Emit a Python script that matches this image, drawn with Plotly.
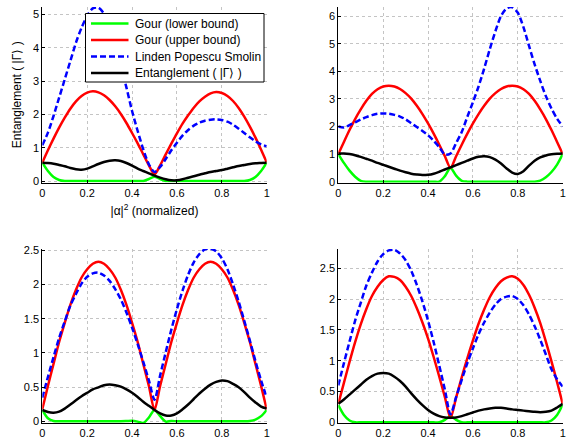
import plotly.graph_objects as go

x = [0, 0.025, 0.05, 0.075, 0.1, 0.125, 0.15, 0.175, 0.2, 0.225, 0.25, 0.275, 0.3, 0.325, 0.35, 0.375, 0.4,
     0.425, 0.45, 0.475, 0.5, 0.525, 0.55, 0.575, 0.6, 0.625, 0.65, 0.675, 0.7, 0.725, 0.75, 0.775, 0.8,
     0.825, 0.85, 0.875, 0.9, 0.925, 0.95, 0.975, 1]

series_names = ["Gour (lower bound)", "Gour (upper bound)", "Linden Popescu Smolin", "Entanglement ( |Γ⟩ )"]

# Panel 1 (top left)
p1_lower = [0.55, 0.30, 0.12, 0.03, 0.0, 0, 0, 0, 0, 0, 0, 0, 0, 0, 0, 0, 0,
            0, 0.0, 0.06, 0.13, 0.06, 0.0, 0, 0, 0, 0, 0, 0, 0, 0, 0, 0,
            0, 0, 0, 0.0, 0.03, 0.12, 0.30, 0.55]
p1_upper = [0.55, 0.92, 1.27, 1.60, 1.90, 2.17, 2.39, 2.55, 2.65, 2.69, 2.66, 2.57, 2.43, 2.24, 2.01, 1.74, 1.44,
            1.13, 0.80, 0.47, 0.20, 0.47, 0.80, 1.12, 1.43, 1.72, 1.97, 2.20, 2.39, 2.53, 2.63, 2.67, 2.64,
            2.55, 2.40, 2.19, 1.93, 1.63, 1.30, 0.94, 0.56]
p1_lps = [1.07, 1.45, 1.95, 2.50, 3.05, 3.60, 4.15, 4.60, 4.95, 5.18, 5.20, 5.02, 4.62, 4.08, 3.45, 2.80, 2.10,
          1.50, 0.95, 0.50, 0.27, 0.42, 0.66, 0.92, 1.15, 1.36, 1.53, 1.66, 1.75, 1.81, 1.84, 1.85, 1.83,
          1.78, 1.69, 1.57, 1.44, 1.31, 1.19, 1.10, 1.04]
p1_ent = [0.55, 0.54, 0.52, 0.48, 0.44, 0.39, 0.35, 0.34, 0.37, 0.44, 0.51, 0.57, 0.61, 0.62, 0.60, 0.54, 0.46,
          0.37, 0.30, 0.23, 0.16, 0.10, 0.05, 0.02, 0.02, 0.05, 0.10, 0.14, 0.19, 0.23, 0.27, 0.30, 0.33,
          0.37, 0.41, 0.45, 0.48, 0.51, 0.53, 0.54, 0.55]

# Panel 2 (top right)
p2_lower = [1.0, 0.68, 0.40, 0.18, 0.03, 0, 0, 0, 0, 0, 0, 0, 0, 0, 0, 0, 0,
            0, 0.0, 0.20, 0.50, 0.22, 0.03, 0, 0, 0, 0, 0, 0, 0, 0, 0, 0,
            0, 0, 0, 0.04, 0.16, 0.35, 0.62, 1.0]
p2_upper = [1.0, 1.44, 1.87, 2.27, 2.62, 2.93, 3.18, 3.35, 3.45, 3.48, 3.45, 3.36, 3.21, 3.01, 2.75, 2.45, 2.11,
            1.74, 1.34, 0.92, 0.50, 0.92, 1.34, 1.74, 2.11, 2.45, 2.75, 3.01, 3.21, 3.36, 3.45, 3.48, 3.45,
            3.35, 3.18, 2.93, 2.62, 2.27, 1.87, 1.44, 1.0]
p2_lps = [2.0, 1.96, 2.05, 2.15, 2.25, 2.34, 2.41, 2.46, 2.47, 2.46, 2.42, 2.36, 2.26, 2.12, 1.98, 1.84, 1.68,
          1.48, 1.25, 0.98, 1.02, 1.40, 1.80, 2.35, 2.88, 3.45, 4.10, 4.80, 5.45, 6.00, 6.28, 6.32, 6.12,
          5.60, 4.92, 4.25, 3.65, 3.10, 2.65, 2.28, 2.0]
p2_ent = [1.02, 1.02, 1.00, 0.96, 0.90, 0.83, 0.76, 0.68, 0.61, 0.54, 0.47, 0.40, 0.34, 0.29, 0.26, 0.24, 0.25,
          0.29, 0.36, 0.44, 0.52, 0.60, 0.68, 0.76, 0.84, 0.90, 0.92, 0.89, 0.80, 0.66, 0.48, 0.33, 0.28,
          0.38, 0.58, 0.76, 0.88, 0.95, 0.99, 1.01, 1.02]

# Panel 3 (bottom left)
p3_lower = [0.17, 0.05, 0.01, 0.005, 0.005, 0.005, 0.005, 0.005, 0.005, 0.005, 0.005, 0.005, 0.005, 0.005, 0.005, 0.008, 0.012,
            0.0, -0.02, 0.06, 0.17, 0.08, 0.0, 0.01, 0.005, 0.005, 0.005, 0.005, 0.005, 0.005, 0.005, 0.005, 0.005,
            0.005, 0.005, 0.005, 0.005, 0.01, 0.03, 0.08, 0.17]
p3_upper = [0.18, 0.52, 0.84, 1.16, 1.44, 1.70, 1.92, 2.10, 2.22, 2.30, 2.33, 2.30, 2.22, 2.10, 1.92, 1.70, 1.44,
            1.16, 0.84, 0.52, 0.17, 0.52, 0.84, 1.16, 1.44, 1.70, 1.92, 2.10, 2.22, 2.30, 2.33, 2.30, 2.22,
            2.10, 1.92, 1.70, 1.44, 1.16, 0.84, 0.52, 0.18]
p3_lps = [0.35, 0.65, 0.94, 1.22, 1.46, 1.69, 1.86, 2.01, 2.11, 2.16, 2.17, 2.13, 2.05, 1.93, 1.78, 1.59, 1.37,
          1.13, 0.87, 0.60, 0.32, 0.67, 1.01, 1.34, 1.64, 1.91, 2.14, 2.32, 2.44, 2.51, 2.52, 2.48, 2.38,
          2.22, 2.00, 1.75, 1.47, 1.18, 0.88, 0.60, 0.35]
p3_ent = [0.17, 0.14, 0.13, 0.145, 0.19, 0.25, 0.31, 0.37, 0.42, 0.47, 0.50, 0.53, 0.54, 0.53, 0.51, 0.47, 0.42,
          0.36, 0.29, 0.23, 0.17, 0.12, 0.09, 0.09, 0.12, 0.18, 0.25, 0.33, 0.41, 0.48, 0.54, 0.58, 0.60,
          0.59, 0.55, 0.50, 0.43, 0.35, 0.28, 0.22, 0.19]

# Panel 4 (bottom right)
p4_lower = [0.28, 0.12, 0.03, 0.0, 0, 0, 0, 0, 0, 0, 0, 0, 0, 0, 0, 0, 0,
            0, 0.0, 0.04, 0.10, 0.04, 0.0, 0, 0, 0, 0, 0, 0, 0, 0, 0, 0,
            0, 0, 0, 0, 0.0, 0.03, 0.12, 0.29]
p4_upper = [0.30, 0.64, 0.98, 1.30, 1.59, 1.84, 2.05, 2.20, 2.31, 2.37, 2.36, 2.31, 2.20, 2.05, 1.85, 1.62, 1.36,
            1.06, 0.74, 0.41, 0.07, 0.40, 0.73, 1.04, 1.33, 1.60, 1.83, 2.03, 2.18, 2.29, 2.35, 2.37, 2.33,
            2.23, 2.07, 1.86, 1.61, 1.31, 0.99, 0.65, 0.30]
p4_lps = [0.60, 0.96, 1.31, 1.65, 1.94, 2.22, 2.43, 2.61, 2.73, 2.79, 2.80, 2.74, 2.63, 2.46, 2.23, 1.96, 1.65,
          1.30, 0.92, 0.53, 0.13, 0.41, 0.69, 0.96, 1.20, 1.43, 1.62, 1.78, 1.91, 2.00, 2.04, 2.05, 2.00,
          1.90, 1.75, 1.56, 1.34, 1.10, 0.86, 0.70, 0.58]
p4_ent = [0.30, 0.37, 0.45, 0.53, 0.61, 0.69, 0.75, 0.79, 0.80, 0.79, 0.74, 0.67, 0.58, 0.47, 0.37, 0.28, 0.20,
          0.14, 0.10, 0.08, 0.075, 0.08, 0.10, 0.13, 0.16, 0.19, 0.21, 0.225, 0.235, 0.235, 0.225, 0.21, 0.20,
          0.19, 0.18, 0.17, 0.165, 0.17, 0.19, 0.24, 0.30]

panels = [
    (p1_lower, p1_upper, p1_lps, p1_ent),
    (p2_lower, p2_upper, p2_lps, p2_ent),
    (p3_lower, p3_upper, p3_lps, p3_ent),
    (p4_lower, p4_upper, p4_lps, p4_ent),
]
y_ranges = [[-0.045, 5.22], [-0.03, 6.33], [-0.02, 2.515], [-0.011, 2.813]]
y_ticks = [[0, 1, 2, 3, 4, 5], [0, 1, 2, 3, 4, 5, 6], [0, 0.5, 1, 1.5, 2, 2.5], [0, 0.5, 1, 1.5, 2, 2.5]]
x_ticks = [0, 0.2, 0.4, 0.6, 0.8, 1]
x_ticklabels = ["0", "0.2", "0.4", "0.6", "0.8", "1"]

W, H = 568, 440
col_px = [(42.3, 266.7), (338.3, 562.7)]
row_px = [(7, 182.5), (249, 423)]

colors = ["#00ff00", "#ff0000", "#0000ff", "#000000"]
dashes = ["solid", "solid", "6px,3px", "solid"]
FAM = "Liberation Sans, Arial, sans-serif"

fig = go.Figure()
font = dict(family=FAM, size=11, color="#000000")

for i, data in enumerate(panels):
    r, c = divmod(i, 2)
    xa = "x" if i == 0 else f"x{i+1}"
    ya = "y" if i == 0 else f"y{i+1}"
    for k, vals in enumerate(data):
        fig.add_trace(go.Scatter(
            x=x, y=vals, mode="lines", name=series_names[k],
            line=dict(color=colors[k], width=2.5, dash=dashes[k], shape="spline", smoothing=0.8),
            xaxis=xa, yaxis=ya, showlegend=False, hoverinfo="skip"))
    xd = [col_px[c][0] / W, col_px[c][1] / W]
    yd = [1 - row_px[r][1] / H, 1 - row_px[r][0] / H]
    axcommon = dict(showline=True, linecolor="#000000", linewidth=1, mirror=False,
                    ticks="inside", ticklen=3, tickcolor="#000000",
                    showgrid=True, gridcolor="#c4c4c4", griddash="dot", gridwidth=1,
                    zeroline=False, tickfont=font, automargin=False)
    xkey = "xaxis" if i == 0 else f"xaxis{i+1}"
    ykey = "yaxis" if i == 0 else f"yaxis{i+1}"
    fig.layout[xkey] = dict(domain=xd, anchor=ya, range=[0, 1], tickvals=x_ticks,
                            ticktext=x_ticklabels, **axcommon)
    fig.layout[ykey] = dict(domain=yd, anchor=xa, range=y_ranges[i], tickvals=y_ticks[i], **axcommon)

fig.layout.xaxis.title = dict(text="|α|<sup>2</sup> (normalized)", font=dict(family=FAM, size=12, color="#000"), standoff=8)
fig.layout.yaxis.title = dict(text="Entanglement ( |Γ⟩ )", font=dict(family=FAM, size=12, color="#000"), standoff=8)

# Legend box (drawn in the top-left panel)
leg_left, leg_right, leg_top, leg_bottom = 85.5, 264.0, 13.5, 82.0
entry_y = [23.5, 40.0, 56.5, 73.0]
sample_x0, sample_x1, text_x = 91.0, 128.5, 133.0

def px(xv):
    return xv / W

def py(yv):
    return 1 - yv / H

shapes = [dict(type="rect", xref="paper", yref="paper", x0=px(leg_left), x1=px(leg_right),
               y0=py(leg_bottom), y1=py(leg_top), fillcolor="white",
               line=dict(color="#000000", width=1), layer="above")]
annotations = []
for k in range(4):
    shapes.append(dict(type="line", xref="paper", yref="paper", x0=px(sample_x0), x1=px(sample_x1),
                       y0=py(entry_y[k]), y1=py(entry_y[k]),
                       line=dict(color=colors[k], width=2.5, dash=dashes[k]), layer="above"))
    annotations.append(dict(xref="paper", yref="paper", x=px(text_x), y=py(entry_y[k]),
                            text=series_names[k], showarrow=False, xanchor="left", yanchor="middle",
                            font=dict(family=FAM, size=12, color="#000")))

fig.update_layout(
    width=W, height=H, margin=dict(l=0, r=0, t=0, b=0),
    paper_bgcolor="white", plot_bgcolor="white",
    font=font, showlegend=False,
    shapes=shapes, annotations=annotations,
)

fig.write_html("out.html", config={"displayModeBar": False},
               post_script="document.body.style.margin='0';document.body.style.overflow='hidden';")
